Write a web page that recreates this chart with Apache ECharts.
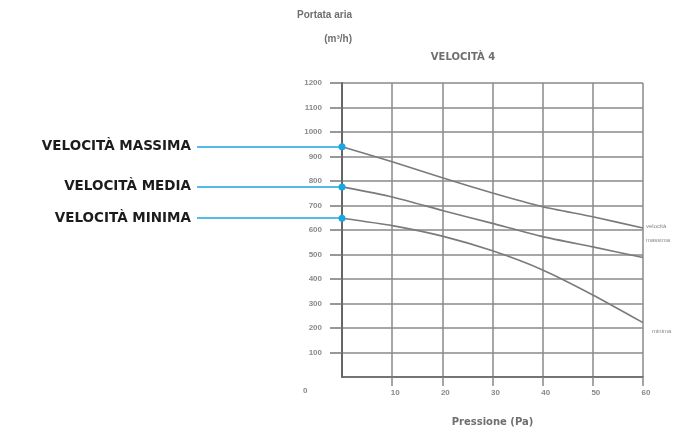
<!DOCTYPE html>
<html>
<head>
<meta charset="utf-8">
<script src="https://cdn.jsdelivr.net/npm/echarts@6/dist/echarts.min.js"></script>
<style>
  html, body { margin: 0; padding: 0; background: #fff; }
  #chart { width: 699px; height: 432px; }
</style>
</head>
<body>
<div id="chart"></div>
<script>
// pressione (Pa)
var pressione = [0, 10, 20, 30, 40, 50, 60];
// portata aria (m3/h)
var velMassima = [940, 879, 813, 751, 695, 654, 608];
var velMedia = [776, 735, 680, 627, 573, 531, 488];
var velMinima = [648, 618, 575, 515, 437, 335, 222];
var nomi = ['VELOCITÀ MASSIMA', 'VELOCITÀ MEDIA', 'VELOCITÀ MINIMA'];

var grigio = '#6f6f6f';
var blu = '#1aa6e2';

function toPairs(vals) {
  var out = [];
  for (var i = 0; i < vals.length; i++) {
    out.push([pressione[i], vals[i]]);
  }
  return out;
}

// linea blu con etichetta a sinistra, arriva sul primo punto della curva
function richiamo(nome, v) {
  return {
    silent: true,
    symbol: ['none', 'circle'],
    symbolSize: 7,
    lineStyle: { color: blu, width: 1.5, type: 'solid' },
    label: {
      show: true,
      position: 'start',
      distance: 6,
      formatter: nome,
      color: '#1c1c1c',
      fontFamily: 'DejaVu Sans',
      fontWeight: 'bold',
      fontSize: 13.5
    },
    data: [[
      { x: 197, coord: [0, v] },
      { coord: [0, v] }
    ]]
  };
}

function serie(nome, vals) {
  return {
    name: nome,
    type: 'line',
    data: toPairs(vals),
    smooth: 0.2,
    symbol: 'none',
    clip: false,
    lineStyle: { color: '#7a7a7a', width: 1.6 },
    markLine: richiamo(nome, vals[0]),
    z: 3
  };
}

var chart = echarts.init(document.getElementById('chart'));
chart.setOption({
  animation: false,
  backgroundColor: '#fff',
  title: {
    text: 'VELOCITÀ 4',
    left: 458,
    top: 47,
    textAlign: 'center',
    textStyle: { color: grigio, fontSize: 10, fontWeight: 'bold', fontFamily: 'DejaVu Sans' }
  },
  grid: { left: 342, top: 83, width: 301, height: 294 },
  xAxis: {
    type: 'value',
    min: 0,
    max: 60,
    interval: 10,
    name: 'Pressione (Pa)',
    nameLocation: 'middle',
    nameGap: 40,
    nameTextStyle: { color: grigio, fontSize: 10, fontWeight: 'bold', fontFamily: 'DejaVu Sans' },
    axisLine: { show: true, lineStyle: { color: '#666', width: 1.5 } },
    axisTick: { show: true, length: 9, lineStyle: { color: '#888', width: 1.5 } },
    axisLabel: { color: '#888', fontSize: 8, fontWeight: 'bold', margin: 12, showMinLabel: false, padding: [0, 0, 0, 6] },
    splitLine: { show: true, lineStyle: { color: '#8a8a8a', width: 1.5 } }
  },
  yAxis: {
    type: 'value',
    min: 0,
    max: 1200,
    interval: 100,
    name: 'Portata aria\n(m³/h)',
    nameLocation: 'end',
    nameGap: 32,
    nameTextStyle: { color: grigio, fontSize: 10, fontWeight: 'bold', align: 'right', padding: [0, -10, 0, 0], lineHeight: 24 },
    axisLine: { show: true, onZero: false, lineStyle: { color: '#666', width: 2 } },
    axisTick: { show: true, length: 12, lineStyle: { color: '#777', width: 1.5 } },
    axisLabel: {
      color: '#8a8a8a', fontSize: 8, fontWeight: 'bold', margin: 20, showMinLabel: false,
      formatter: function (v) { return String(v); }
    },
    splitLine: { show: true, lineStyle: { color: '#8a8a8a', width: 1.5 } }
  },
  graphic: [
    { type: 'text', left: 303, top: 387, style: { text: '0', fill: '#888', fontSize: 8, fontWeight: 'bold' } },
    { type: 'text', left: 646, top: 219, style: { text: 'velocità\nmassima', fill: '#888', fontSize: 6, lineHeight: 14 } },
    { type: 'text', left: 652, top: 328, style: { text: 'minima', fill: '#888', fontSize: 6 } }
  ],
  series: [
    serie(nomi[0], velMassima),
    serie(nomi[1], velMedia),
    serie(nomi[2], velMinima)
  ]
});
</script>
</body>
</html>
